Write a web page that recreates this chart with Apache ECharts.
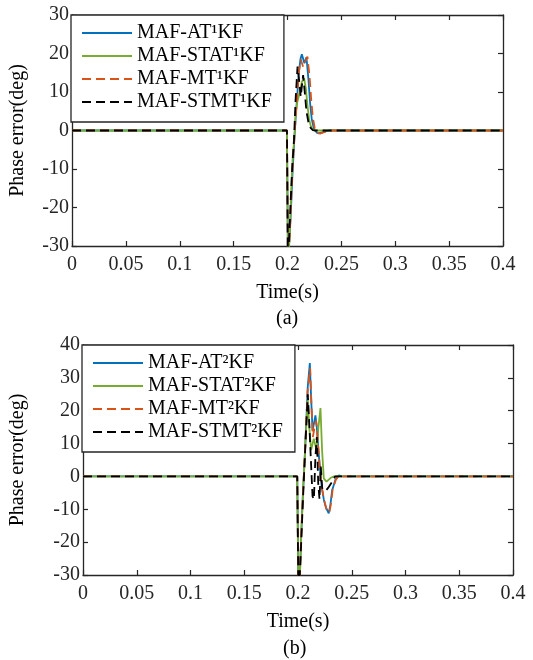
<!DOCTYPE html>
<html>
<head>
<meta charset="utf-8">
<script src="https://cdn.jsdelivr.net/npm/echarts@6/dist/echarts.min.js"></script>
<style>
  html, body { margin: 0; padding: 0; background: #fff; }
  #chart { width: 533px; height: 660px; }
</style>
</head>
<body>
<div id="chart"></div>
<script>
// ---- Panel (a): first-order filters, time (s) and phase error (deg) ----
const tA_AT1 = [0, 0.1995, 0.2003, 0.2015, 0.203, 0.2045, 0.206, 0.2075, 0.209, 0.2105, 0.212, 0.2133, 0.2157, 0.2176, 0.2195, 0.221, 0.2225, 0.2247, 0.2275, 0.2295, 0.233, 0.2386, 0.4];
const vA_AT1 = [0, 0, -32, -30, -22, -12, -4, 3, 9, 15, 18.5, 19.8, 17.5, 19.0, 13, 7, 3, 0.2, -0.6, -0.7, -0.4, 0, 0];

const tA_STAT1 = [0, 0.1995, 0.2005, 0.202, 0.2035, 0.205, 0.206, 0.2077, 0.2092, 0.2108, 0.2133, 0.2154, 0.217, 0.2185, 0.22, 0.2216, 0.2235, 0.226, 0.4];
const vA_STAT1 = [0, 0, -32, -28, -15, -6, -3.3, 4.9, 7.5, 9.2, 12.6, 13.6, 11, 6.6, 3, 1.2, 0.2, 0, 0];

const tA_MT1 = [0, 0.1995, 0.2003, 0.2015, 0.203, 0.2045, 0.206, 0.2075, 0.209, 0.2105, 0.2123, 0.2145, 0.216, 0.2185, 0.2205, 0.222, 0.2235, 0.2256, 0.228, 0.2302, 0.234, 0.24, 0.4];
const vA_MT1 = [0, 0, -32, -30, -21, -11, -3.5, 3, 9, 15, 18.5, 16.5, 17, 19.2, 14, 8, 3.5, 0, -0.7, -0.8, -0.4, 0, 0];

const tA_STMT1 = [0, 0.1995, 0.2003, 0.2012, 0.203, 0.2045, 0.206, 0.2075, 0.2093, 0.2108, 0.2123, 0.2145, 0.216, 0.2176, 0.2195, 0.2216, 0.2235, 0.226, 0.4];
const vA_STMT1 = [0, 0, -32, -30, -18, -9, -2.5, 8, 16.6, 13, 8.8, 14.4, 10, 4.9, 2, 0.6, 0.1, 0, 0];

// ---- Panel (b): second-order filters ----
const tB_AT2 = [0, 0.1993, 0.2003, 0.2018, 0.203, 0.2045, 0.206, 0.2075, 0.209, 0.211, 0.2122, 0.2135, 0.2148, 0.2162, 0.2175, 0.219, 0.2205, 0.222, 0.224, 0.226, 0.2286, 0.2302, 0.2317, 0.2348, 0.2379, 0.241, 0.4];
const vB_AT2 = [0, 0, -32, -30, -18, -6, 4, 15, 27, 34.5, 24, 14, 16, 18.6, 15, 8, 2, -3, -7, -9.5, -11.2, -8.5, -4.3, -1, 0.3, 0, 0];

const tB_STAT2 = [0, 0.1993, 0.2003, 0.2018, 0.203, 0.2045, 0.206, 0.2075, 0.2091, 0.2105, 0.2122, 0.2147, 0.2172, 0.219, 0.2209, 0.2224, 0.224, 0.2265, 0.2302, 0.233, 0.4];
const vB_STAT2 = [0, 0, -32, -30, -18, -6, 4, 14, 23.5, 15, 8, 11.5, 8, 15, 20.8, 8, -0.6, -1.6, -0.5, 0, 0];

const tB_MT2 = [0, 0.1993, 0.2003, 0.2018, 0.203, 0.2045, 0.206, 0.2075, 0.209, 0.2113, 0.2125, 0.2138, 0.2152, 0.2168, 0.218, 0.2195, 0.221, 0.2225, 0.2245, 0.2265, 0.2292, 0.2308, 0.2322, 0.2352, 0.2383, 0.242, 0.4];
const vB_MT2 = [0, 0, -32, -30, -18, -6, 4, 15, 26, 33, 22, 12, 14.5, 17, 13, 6, 0, -4, -7.5, -10, -11, -8, -4, -1, 0.4, 0, 0];

const tB_STMT2 = [0, 0.1993, 0.2003, 0.2015, 0.203, 0.2045, 0.206, 0.2075, 0.2091, 0.2105, 0.212, 0.2135, 0.2148, 0.2162, 0.2175, 0.2188, 0.22, 0.2212, 0.2225, 0.224, 0.226, 0.228, 0.231, 0.2345, 0.4];
const vB_STMT2 = [0, 0, -32, -31, -20, -8, 3, 14, 25, 16, 5, -6, -7, 6, 12, -2, -7, 3, -3.5, -4.3, -4.3, -3.5, -2, 0, 0];

// Axis ranges and tick labels
const xTicks = [0, 0.05, 0.1, 0.15, 0.2, 0.25, 0.3, 0.35, 0.4];
const yRangeA = [-30, 30];
const yRangeB = [-30, 40];

const names1 = ['MAF-AT\u00b9KF', 'MAF-STAT\u00b9KF', 'MAF-MT\u00b9KF', 'MAF-STMT\u00b9KF'];
const names2 = ['MAF-AT\u00b2KF', 'MAF-STAT\u00b2KF', 'MAF-MT\u00b2KF', 'MAF-STMT\u00b2KF'];

const FONT = 'Liberation Serif';
const AX = '#262626';
const colors = ['#0072BD', '#77AC30', '#D95319', '#000000'];
const dashed = [9, 5];

function pairs(t, v) { return t.map((x, i) => [x, v[i]]); }

function xAxisPair(grid) {
  const common = {
    gridIndex: grid, type: 'value', min: xTicks[0], max: xTicks[xTicks.length - 1], interval: 0.05,
    splitLine: { show: false },
    axisLine: { show: true, onZero: false, lineStyle: { color: AX, width: 1.3 } },
    axisTick: { show: true, inside: true, length: 5, lineStyle: { color: AX, width: 1.2 } }
  };
  return [
    Object.assign({}, common, {
      position: 'bottom',
      axisLabel: { show: true, margin: 9, fontSize: 20, fontFamily: FONT, color: AX,
        formatter: v => String(parseFloat(v.toFixed(2))) },
      name: 'Time(s)', nameLocation: 'middle', nameGap: 37,
      nameTextStyle: { fontSize: 20, fontFamily: FONT, color: '#000' }
    }),
    Object.assign({}, common, { position: 'top', axisLabel: { show: false } })
  ];
}

function yAxisPair(grid, range, gap) {
  const common = {
    gridIndex: grid, type: 'value', min: range[0], max: range[1], interval: 10,
    splitLine: { show: false },
    axisLine: { show: true, onZero: false, lineStyle: { color: AX, width: 1.3 } },
    axisTick: { show: true, inside: true, length: 5, lineStyle: { color: AX, width: 1.2 } }
  };
  return [
    Object.assign({}, common, {
      position: 'left',
      axisLabel: { show: true, margin: 3, fontSize: 20, fontFamily: FONT, color: AX },
      name: 'Phase error(deg)', nameLocation: 'middle', nameGap: gap, nameRotate: 90,
      nameTextStyle: { fontSize: 20, fontFamily: FONT, color: '#000' }
    }),
    Object.assign({}, common, { position: 'right', axisLabel: { show: false } })
  ];
}

function lineSeries(name, data, xi, yi, k) {
  return {
    name: name, type: 'line', xAxisIndex: xi, yAxisIndex: yi,
    data: data, symbol: 'none', smooth: false, clip: true, animation: false,
    lineStyle: { color: colors[k], width: 1.8, type: k >= 2 ? dashed : 'solid' },
    itemStyle: { color: colors[k] }, z: 2 + k
  };
}

function legendBox(names, left, top) {
  return {
    orient: 'vertical', left: left, top: top, data: names,
    padding: [8, 12, 10, 10], itemGap: 3, itemWidth: 50, itemHeight: 14,
    backgroundColor: '#fff', borderColor: AX, borderWidth: 1.3, borderRadius: 0,
    selectedMode: false,
    // line-only keys: hide the marker drawn in the middle of each key
    itemStyle: { opacity: 0, borderWidth: 0 },
    textStyle: { fontSize: 20, fontFamily: FONT, color: '#000', lineHeight: 20 }
  };
}

const chart = echarts.init(document.getElementById('chart'), null, { renderer: 'canvas' });

const xa = xAxisPair(0), xb = xAxisPair(1);
const ya = yAxisPair(0, yRangeA, 44), yb = yAxisPair(1, yRangeB, 55);

chart.setOption({
  backgroundColor: '#fff',
  animation: false,
  grid: [
    { left: 71, top: 15, width: 432, height: 231, containLabel: false },
    { left: 82, top: 345, width: 431, height: 230, containLabel: false }
  ],
  xAxis: [xa[0], xa[1], xb[0], xb[1]],
  yAxis: [ya[0], ya[1], yb[0], yb[1]],
  legend: [legendBox(names1, 71, 15), legendBox(names2, 82, 345)],
  series: [
    lineSeries(names1[0], pairs(tA_AT1, vA_AT1), 0, 0, 0),
    lineSeries(names1[1], pairs(tA_STAT1, vA_STAT1), 0, 0, 1),
    lineSeries(names1[2], pairs(tA_MT1, vA_MT1), 0, 0, 2),
    lineSeries(names1[3], pairs(tA_STMT1, vA_STMT1), 0, 0, 3),
    lineSeries(names2[0], pairs(tB_AT2, vB_AT2), 2, 2, 0),
    lineSeries(names2[1], pairs(tB_STAT2, vB_STAT2), 2, 2, 1),
    lineSeries(names2[2], pairs(tB_MT2, vB_MT2), 2, 2, 2),
    lineSeries(names2[3], pairs(tB_STMT2, vB_STMT2), 2, 2, 3)
  ],
  graphic: [
    { type: 'text', left: 276, top: 309, style: { text: '(a)', fontSize: 20, fontFamily: FONT, fill: '#000' } },
    { type: 'text', left: 283, top: 639, style: { text: '(b)', fontSize: 20, fontFamily: FONT, fill: '#000' } }
  ]
});
</script>
</body>
</html>
